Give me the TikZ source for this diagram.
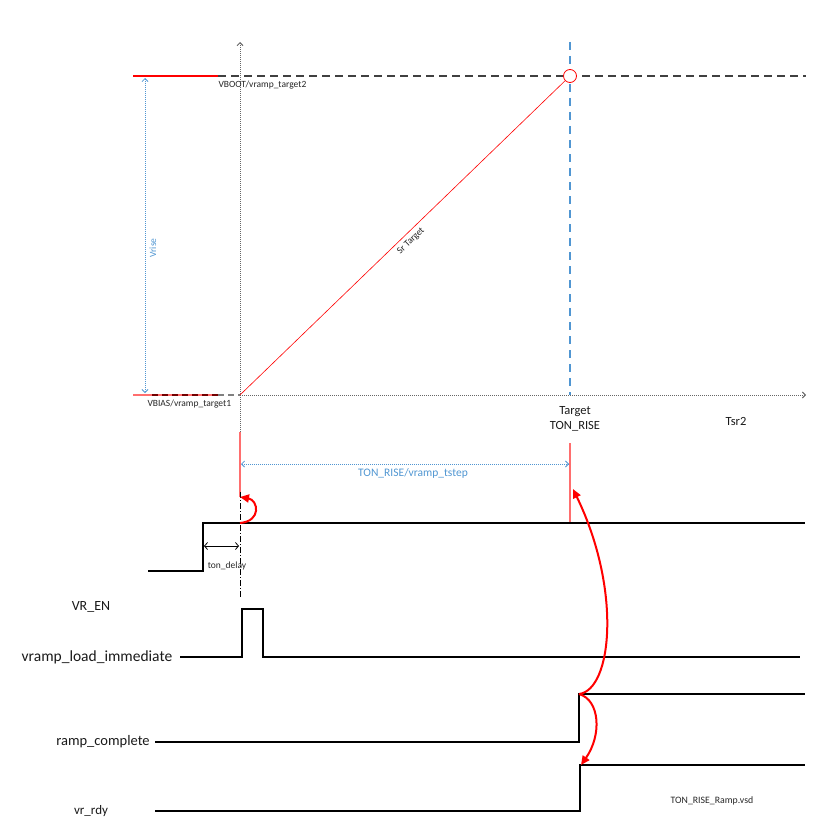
\documentclass[tikz,border=0pt]{standalone}
\usepackage{fontspec}
\setmainfont{Carlito}
\usetikzlibrary{arrows.meta}
\definecolor{vblue}{RGB}{80,150,210}
\definecolor{vred}{RGB}{255,0,0}
\definecolor{lred}{RGB}{255,110,110}
\tikzset{
  sig/.style={line width=2.4pt, line join=miter},
  axisline/.style={gray!80!black, line width=1pt, dash pattern=on 1pt off 1pt},
  bluedim/.style={vblue, line width=0.8pt, dash pattern=on 1pt off 1pt},
  redarrow/.style={vred, line width=2pt, -{Triangle[length=9pt,width=8pt]}},
  smalltxt/.style={font=\fontsize{9.5}{11}\selectfont, text=black!85},
  lbl/.style={text=black!90},
}
\begin{document}
\begin{tikzpicture}[x=1pt,y=-1pt]
\useasboundingbox (0,0) rectangle (839,840);
% coordinates
\coordinate (o) at (240,395);
\coordinate (ytop) at (240,42);
\coordinate (xend) at (806,395);
\coordinate (tgt) at (570,76);
\coordinate (bootL) at (133,76);
\coordinate (bootM) at (218,76);
\coordinate (bootR) at (806,76);
\coordinate (biasL) at (133,395);
\coordinate (biasM) at (218,395);
\coordinate (bluetop) at (570,42);
\coordinate (bluebot) at (570,395);
% axes
\draw[axisline, -{Straight Barb[length=3pt,width=6pt]}] (240,432) -- (ytop);
\draw[axisline, -{Straight Barb[length=3pt,width=6pt]}] (o) -- (xend);
% VBOOT level
\draw[vred, line width=1.2pt] (bootL) -- (bootM);
\draw[black!75, line width=1.2pt, dash pattern=on 8pt off 5pt] (bootM) -- (bootR);
% VBIAS level
\draw[lred, line width=1.6pt] (biasL) -- (biasM);
\draw[black!55!red, line width=1.6pt, dash pattern=on 6pt off 4pt] (152,395) -- (biasM);
\draw[gray, line width=1.6pt, dash pattern=on 6pt off 4pt] (biasM) -- (o);
% blue dashed target
\draw[vblue, line width=1.6pt, dash pattern=on 8pt off 6pt] (bluetop) -- (bluebot);
% ramp line
\node[circle, draw=vred, fill=white, line width=0.8pt, minimum size=13pt, inner sep=0pt] (circ) at (tgt) {};
\draw[vred, line width=0.6pt] (o) -- (circ);
\node[smalltxt, rotate=44, inner sep=0pt] (sr) at (411,241) {Sr Target};
% labels
\node[smalltxt, anchor=west] (lboot) at (215,85) {VBOOT/vramp\_target2};
\node[smalltxt, anchor=west] (lbias) at (144,404) {VBIAS/vramp\_target1};
% Vrise
\coordinate (vrT) at (145,78);
\coordinate (vrB) at (145,393);
\draw[bluedim, {Straight Barb[length=3pt,width=6pt]}-{Straight Barb[length=3pt,width=6pt]}] (vrT) -- (vrB);
\node[rotate=90, font=\fontsize{9.5}{11}\selectfont, text=vblue] (lvrise) at (153,248) {Vrise};
% target text
\node[align=center, font=\fontsize{12.5}{15}\selectfont, text=black!90] (ltgt) at (575,419) {Target\\TON\_RISE};
\node[font=\fontsize{12.5}{15}\selectfont, text=black!90] (ltsr) at (736,421) {Tsr2};
% red vertical markers
\coordinate (rA1) at (240,432);
\coordinate (rA2) at (240,497);
\coordinate (rB1) at (570,443);
\coordinate (rB2) at (570,523);
\draw[lred, line width=1.2pt] (rA1) -- (rA2);
\draw[lred, line width=1.2pt] (rB1) -- (rB2);
% TON_RISE dim
\coordinate (tdL) at (241,464);
\coordinate (tdR) at (569,464);
\draw[bluedim, {Straight Barb[length=3pt,width=6pt]}-{Straight Barb[length=3pt,width=6pt]}] (tdL) -- (tdR);
\node[font=\fontsize{11.5}{13}\selectfont, text=vblue] (ltd) at (413,473) {TON\_RISE/vramp\_tstep};
% dash-dot reference
\draw[black, line width=0.8pt, dash pattern=on 6pt off 2pt on 1pt off 2pt] (240,492) -- (240,598);
% VR_EN signal
\coordinate (s1a) at (148,571);
\coordinate (s1b) at (203,571);
\coordinate (s1c) at (203,523);
\coordinate (s1d) at (805,523);
\draw[sig] (s1a) -- (s1b) -- (s1c) -- (s1d);
% ton_delay
\coordinate (dl) at (204,546);
\coordinate (dr) at (239,546);
\draw[line width=0.8pt, {Straight Barb[length=3pt,width=7pt]}-{Straight Barb[length=3pt,width=7pt]}] (dl) -- (dr);
\node[smalltxt] (ldelay) at (227,566) {ton\_delay};
% pulse
\coordinate (p1) at (180,657);
\coordinate (p2) at (242,657);
\coordinate (p3) at (242,609);
\coordinate (p4) at (263,609);
\coordinate (p5) at (263,657);
\coordinate (p6) at (800,657);
\draw[sig] (p1) -- (p2) -- (p3) -- (p4) -- (p5) -- (p6);
% ramp_complete
\coordinate (r1) at (155,742);
\coordinate (r2) at (579,742);
\coordinate (r3) at (579,694);
\coordinate (r4) at (805,694);
\draw[sig] (r1) -- (r2) -- (r3) -- (r4);
% vr_rdy
\coordinate (v1) at (155,811);
\coordinate (v2) at (580,811);
\coordinate (v3) at (580,765);
\coordinate (v4) at (805,765);
\draw[sig] (v1) -- (v2) -- (v3) -- (v4);
% signal labels
\node[lbl, font=\fontsize{14}{16}\selectfont] (lvren) at (91,607) {VR\_EN};
\node[lbl, font=\fontsize{15.5}{17}\selectfont] (lvload) at (97,657) {vramp\_load\_immediate};
\node[lbl, font=\fontsize{14.5}{16}\selectfont] (lramp) at (103,742) {ramp\_complete};
\node[lbl, font=\fontsize{13}{15}\selectfont] (lrdy) at (91,811) {vr\_rdy};
\node[font=\fontsize{9.8}{11}\selectfont, text=black!85] (lvsd) at (712,801) {TON\_RISE\_Ramp.vsd};
% red curved arrows
\draw[redarrow] (240,523) .. controls (262,521) and (258,500) .. (rA2);
\draw[redarrow] (r3) .. controls (612,690) and (622,590) .. (573,489);
\draw[redarrow] (r3) .. controls (600,700) and (602,735) .. (581,765);
\end{tikzpicture}
\end{document}
